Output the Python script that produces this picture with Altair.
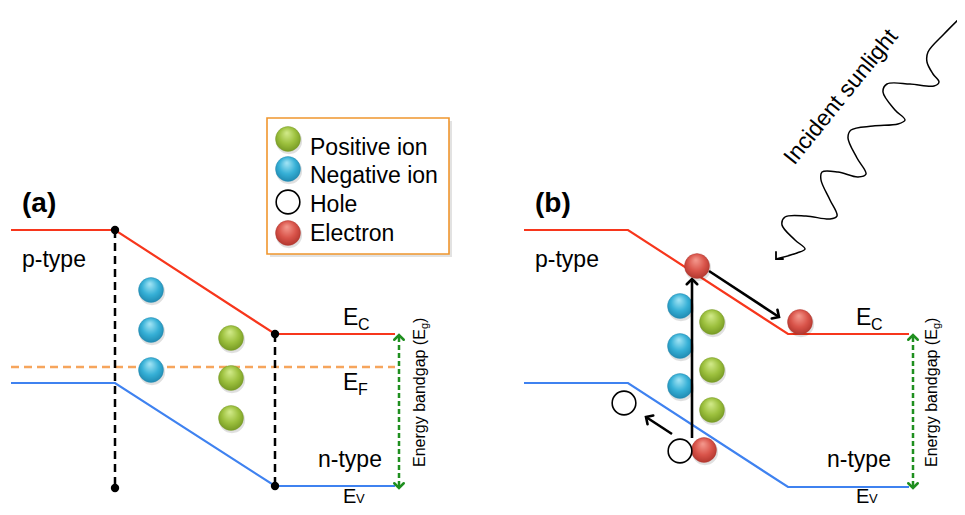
import altair as alt
import pandas as pd

FONT = "Liberation Sans"

# ---------------- panel (a) : band diagram vertices ----------------
A_BAND_X = [11, 115, 275, 395]
A_EC_Y = [230, 230, 334, 334]
A_EV_Y = [383, 383, 486, 486]
A_EF_X = [11, 395]
A_EF_Y = [367, 367]
A_JUNC_X = [115, 275]
A_JUNC_TOP = [230, 334]
A_JUNC_BOT = [488, 486]
A_DOT_X = [115, 115, 275, 275]
A_DOT_Y = [230, 488, 334, 486]
A_NEG_X = [151, 151, 151]
A_NEG_Y = [290, 330, 370]
A_POS_X = [231, 231, 231]
A_POS_Y = [338, 378, 418]

# ---------------- panel (b) ----------------
B_BAND_X = [524, 628, 788, 909]
B_EC_Y = [230, 230, 334, 334]
B_EV_Y = [383, 383, 487, 487]
B_NEG_X = [680, 680, 680]
B_NEG_Y = [306, 346, 386]
B_POS_X = [712, 712, 712]
B_POS_Y = [322, 370, 410]
B_ELEC_X = [697, 800, 704]
B_ELEC_Y = [266, 322, 450]
B_HOLE_X = [624, 680]
B_HOLE_Y = [403, 451]

# carrier arrows (tail -> tip) and head angles
ARR_X1 = [692, 709, 672]
ARR_Y1 = [438, 271, 434]
ARR_X2 = [692, 779, 646]
ARR_Y2 = [279, 317, 417]
ARR_ANG = [0, 123, 303]

# band-gap double arrows
GAP_X = [399, 913]
GAP_TOP = [335, 335]
GAP_BOT = [488, 488]

# incident sunlight wave (traced)
WAVE_X = [965, 944, 928, 927, 933, 939, 934, 910, 887, 883, 895, 905, 898, 873,
          851, 848, 857, 866, 858, 838, 822, 821, 830, 837, 830, 806, 785, 782,
          795, 805, 797, 776]
WAVE_Y = [13, 34, 52, 62, 74, 82, 86, 84, 84, 92, 110, 120, 124, 126,
          130, 138, 158, 174, 177, 172, 172, 180, 200, 216, 219, 216, 217, 225,
          240, 249, 253, 259]
WAVE_TIP = (776, 259, 225)

# legend
LEG_BOX = [267, 118, 449, 254]
LEG_LABELS = ["Positive ion", "Negative ion", "Hole", "Electron"]
LEG_MARK_X = [288, 288, 288, 288]
LEG_MARK_Y = [139, 169, 202, 233]
LEG_TEXT_X = [310, 310, 310, 310]
LEG_TEXT_Y = [155, 183, 212, 241]

# text labels
PANEL_LBL = ["(a)", "(b)"]
PANEL_X = [22, 535]
PANEL_Y = [212, 212]
REGION_LBL = ["p-type", "n-type", "p-type", "n-type"]
REGION_X = [22, 318, 535, 827]
REGION_Y = [267, 467, 267, 467]
E_X = [343, 343, 856]
E_Y = [325, 390, 325]
E_SUB = ["C", "F", "C"]
E_SUB_X = [358, 358, 871]
E_SUB_Y = [330, 395, 330]
EV_X = [343, 856]
EV_Y = [503, 503]
EV_SUB_X = [356, 869]
EV_SUB_Y = [503, 503]
GAPTXT_X = [425, 937]
GAPTXT_Y = [467, 467]
GAPSUB_Y = [329, 329]
GAPPAR_Y = [323, 323]

# colours
RED = "#f7361c"
BLUE = "#3f82f0"
ORANGE = "#f6a55c"
GREEN = "#1f8f1f"

XS = alt.Scale(domain=[8, 957], nice=False, zero=False)
YS = alt.Scale(domain=[8, 507], nice=False, zero=False, reverse=True)


def xe(f="x"):
    return alt.X(f"{f}:Q", scale=XS, axis=None)


def ye(f="y"):
    return alt.Y(f"{f}:Q", scale=YS, axis=None)


def polyline(xs, ys, color, width, dash=None, interp="linear"):
    df = pd.DataFrame({"x": xs, "y": ys, "o": list(range(len(xs)))})
    kw = dict(color=color, strokeWidth=width, interpolate=interp)
    if dash:
        kw["strokeDash"] = dash
    return alt.Chart(df).mark_line(**kw).encode(x=xe(), y=ye(), order="o:Q")


def segments(x1, y1, x2, y2, color, width, dash=None):
    df = pd.DataFrame({"x": x1, "y": y1, "x2": x2, "y2": y2})
    kw = dict(color=color, strokeWidth=width)
    if dash:
        kw["strokeDash"] = dash
    return alt.Chart(df).mark_rule(**kw).encode(
        x=xe(), y=ye(), x2="x2:Q", y2="y2:Q")


CHEVRON = "M -1 1 L 0 0 L 1 1"


def heads(xs, ys, angs, color, size, width):
    df = pd.DataFrame({"x": xs, "y": ys, "a": angs})
    return alt.Chart(df).mark_point(
        shape=CHEVRON, filled=False, color=color, strokeWidth=width,
        size=size, opacity=1, strokeCap="round", strokeJoin="miter"
    ).encode(x=xe(), y=ye(), angle=alt.Angle("a:Q", scale=None))


def ball(xs, ys, light, mid, dark):
    df = pd.DataFrame({"x": xs, "y": ys})
    grad = {
        "gradient": "radial",
        "x1": 0.45, "y1": 0.25, "r1": 0.0,
        "x2": 0.5, "y2": 0.45, "r2": 0.62,
        "stops": [
            {"offset": 0.0, "color": light},
            {"offset": 0.55, "color": mid},
            {"offset": 1.0, "color": dark},
        ],
    }
    shadow = alt.Chart(df).mark_point(
        shape="circle", filled=True, color="#000000", opacity=0.12, size=690
    ).encode(x=alt.X("sx:Q", scale=XS, axis=None),
             y=alt.Y("sy:Q", scale=YS, axis=None)).transform_calculate(
        sx="datum.x + 1", sy="datum.y + 2")
    body = alt.Chart(df).mark_point(
        shape="circle", filled=True, fill=grad, stroke=dark, strokeWidth=0.4,
        opacity=1, size=625
    ).encode(x=xe(), y=ye())
    return [shadow, body]


def holes(xs, ys):
    df = pd.DataFrame({"x": xs, "y": ys})
    return alt.Chart(df).mark_point(
        shape="circle", filled=True, fill="white", stroke="black",
        strokeWidth=1.6, opacity=1, size=560
    ).encode(x=xe(), y=ye())


def dots(xs, ys):
    df = pd.DataFrame({"x": xs, "y": ys})
    return alt.Chart(df).mark_point(
        shape="circle", filled=True, color="black", opacity=1, size=70
    ).encode(x=xe(), y=ye())


def texts(labels, xs, ys, size, weight="normal", align="left",
          baseline="alphabetic", angle=0, color="black"):
    df = pd.DataFrame({"t": labels, "x": xs, "y": ys})
    kw = dict(font=FONT, fontSize=size, fontWeight=weight, align=align,
              baseline=baseline, color=color)
    if angle:
        kw["angle"] = angle
    return alt.Chart(df).mark_text(**kw).encode(x=xe(), y=ye(), text="t:N")


GREEN_BALL = ("#d3eb8c", "#9cc03d", "#6f921f")
BLUE_BALL = ("#a6e6f6", "#36b0d6", "#1b82aa")
RED_BALL = ("#f59b90", "#d9544a", "#aa3129")

layers = []

# legend box
lx1, ly1, lx2, ly2 = LEG_BOX
box_df = pd.DataFrame({"x": [lx1], "y": [ly1], "x2": [lx2], "y2": [ly2]})
layers.append(alt.Chart(box_df).mark_rect(color="#cfcfcf", opacity=0.6).encode(
    x=alt.X("sx:Q", scale=XS, axis=None), y=alt.Y("sy:Q", scale=YS, axis=None),
    x2="sx2:Q", y2="sy2:Q").transform_calculate(
    sx="datum.x + 3", sy="datum.y + 3", sx2="datum.x2 + 3", sy2="datum.y2 + 3"))
layers.append(alt.Chart(box_df).mark_rect(
    fill="white", stroke="#f0962e", strokeWidth=1.6).encode(
    x=xe(), y=ye(), x2="x2:Q", y2="y2:Q"))

# panel (a) bands
layers.append(polyline(A_EF_X, A_EF_Y, ORANGE, 2.5, dash=[8, 5]))
layers.append(segments(A_JUNC_X, A_JUNC_TOP, A_JUNC_X, A_JUNC_BOT, "black", 2.5,
                       dash=[8, 5]))
layers.append(polyline(A_BAND_X, A_EC_Y, RED, 2.2))
layers.append(polyline(A_BAND_X, A_EV_Y, BLUE, 2.2))
layers.append(dots(A_DOT_X, A_DOT_Y))

# panel (b) bands
layers.append(polyline(B_BAND_X, B_EC_Y, RED, 2.2))
layers.append(polyline(B_BAND_X, B_EV_Y, BLUE, 2.2))

# band-gap arrows
layers.append(segments(GAP_X, [t + 2 for t in GAP_TOP], GAP_X,
                       [b - 2 for b in GAP_BOT], GREEN, 2.5, dash=[5, 3]))
layers.append(heads(GAP_X + GAP_X, GAP_TOP + GAP_BOT, [0, 0, 180, 180],
                    GREEN, 90, 2.5))

# ions
layers += ball(A_NEG_X + B_NEG_X, A_NEG_Y + B_NEG_Y, *BLUE_BALL)
layers += ball(A_POS_X + B_POS_X, A_POS_Y + B_POS_Y, *GREEN_BALL)

# carrier arrows
layers.append(segments(ARR_X1, ARR_Y1, ARR_X2, ARR_Y2, "black", 2.6))
layers.append(heads(ARR_X2, ARR_Y2, ARR_ANG, "black", 110, 2.6))

# electrons and holes
layers += ball(B_ELEC_X, B_ELEC_Y, *RED_BALL)
layers.append(holes(B_HOLE_X, B_HOLE_Y))

# sunlight wave
layers.append(polyline(WAVE_X, WAVE_Y, "black", 1.5, interp="catmull-rom"))
layers.append(heads([WAVE_TIP[0]], [WAVE_TIP[1]], [WAVE_TIP[2]], "black", 100, 1.8))

# legend markers
layers += ball(LEG_MARK_X[:1], LEG_MARK_Y[:1], *GREEN_BALL)
layers += ball(LEG_MARK_X[1:2], LEG_MARK_Y[1:2], *BLUE_BALL)
layers.append(holes(LEG_MARK_X[2:3], LEG_MARK_Y[2:3]))
layers += ball(LEG_MARK_X[3:4], LEG_MARK_Y[3:4], *RED_BALL)
layers.append(texts(LEG_LABELS, LEG_TEXT_X, LEG_TEXT_Y, 23))

# labels
layers.append(texts(PANEL_LBL, PANEL_X, PANEL_Y, 28, weight="bold"))
layers.append(texts(REGION_LBL, REGION_X, REGION_Y, 23))
layers.append(texts(["E"] * len(E_X), E_X, E_Y, 23))
layers.append(texts(E_SUB, E_SUB_X, E_SUB_Y, 16))
layers.append(texts(["E"] * len(EV_X), EV_X, EV_Y, 20))
layers.append(texts(["V"] * len(EV_X), EV_SUB_X, EV_SUB_Y, 13))
layers.append(texts(["Energy bandgap (E"] * 2, GAPTXT_X, GAPTXT_Y, 16, angle=270))
layers.append(texts(["g"] * 2, [x + 3 for x in GAPTXT_X], GAPSUB_Y, 11, angle=270))
layers.append(texts([")"] * 2, GAPTXT_X, GAPPAR_Y, 16, angle=270))
layers.append(texts(["Incident sunlight"], [841], [97], 23, align="center",
                    baseline="middle", angle=309))

chart = alt.layer(*layers).properties(
    width=949, height=499, padding=0,
    autosize=alt.AutoSizeParams(type="none"),
    background="white",
).configure_view(stroke=None)

chart.save("out.html", embed_options={"renderer": "svg", "actions": False})
